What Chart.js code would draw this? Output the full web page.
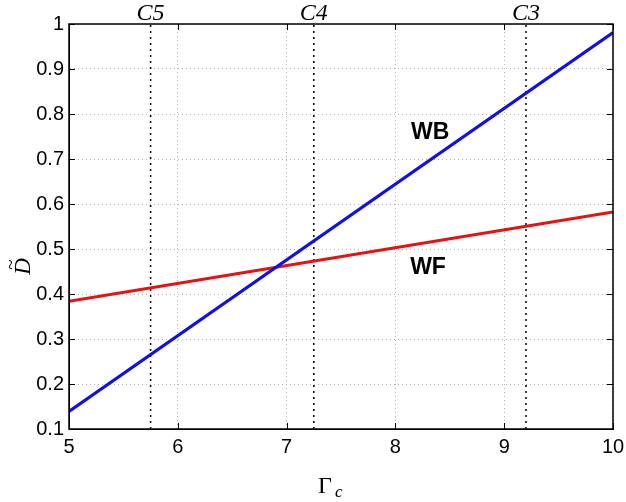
<!DOCTYPE html>
<html>
<head>
<meta charset="utf-8">
<script src="https://cdn.jsdelivr.net/npm/chart.js@4"></script>
<style>
  html, body { margin: 0; padding: 0; background: #fff; }
  #wrap { width: 626px; height: 502px; }
</style>
</head>
<body>
<div id="wrap"><canvas id="chart" width="626" height="502"></canvas></div>
<script>
// data
const gammaC = [5, 10];
const wbValues = [0.139, 0.981];
const wfValues = [0.384, 0.582];

const criticalX = [5.75, 7.25, 9.2];
const criticalLabels = ["C5", "C4", "C3"];

const curveLabels = ["WB", "WF"];
const curveLabelX = [8.32, 8.30];
const curveLabelY = [0.758, 0.458];

const xTicks = [5, 6, 7, 8, 9, 10];
const yTicks = [0.1, 0.2, 0.3, 0.4, 0.5, 0.6, 0.7, 0.8, 0.9, 1];

const toPoints = (xs, ys) => xs.map((x, i) => ({ x: x, y: ys[i] }));

const criticalSets = criticalX.map((x) => ({
    data: [{ x: x, y: yTicks[0] }, { x: x, y: yTicks[yTicks.length - 1] }],
    borderColor: "#000",
    borderWidth: 1.5,
    borderDash: [2, 4],
    pointRadius: 0,
}));

const decorations = {
    id: "decorations",
    afterDatasetsDraw(chart) {
        const { ctx, chartArea: a, scales } = chart;
        const xs = scales.x, ys = scales.y;
        ctx.save();

        // inward tick marks, MATLAB style
        ctx.strokeStyle = "#000";
        ctx.lineWidth = 1;
        xTicks.forEach((t) => {
            const px = Math.round(xs.getPixelForValue(t)) + 0.5;
            ctx.beginPath();
            ctx.moveTo(px, a.bottom); ctx.lineTo(px, a.bottom - 6);
            ctx.moveTo(px, a.top); ctx.lineTo(px, a.top + 6);
            ctx.stroke();
        });
        yTicks.forEach((t) => {
            const py = Math.round(ys.getPixelForValue(t)) + 0.5;
            ctx.beginPath();
            ctx.moveTo(a.left, py); ctx.lineTo(a.left + 6, py);
            ctx.moveTo(a.right, py); ctx.lineTo(a.right - 6, py);
            ctx.stroke();
        });

        // box
        ctx.lineWidth = 1.5;
        ctx.strokeRect(a.left, a.top, a.right - a.left, a.bottom - a.top);

        // C labels above the plot
        ctx.fillStyle = "#000";
        ctx.font = "italic 24px 'Liberation Serif'";
        ctx.textAlign = "center";
        ctx.textBaseline = "alphabetic";
        criticalX.forEach((x, i) => {
            ctx.fillText(criticalLabels[i], xs.getPixelForValue(x), a.top - 4);
        });

        // curve labels
        ctx.font = "bold 23px 'Liberation Sans'";
        ctx.textBaseline = "middle";
        curveLabels.forEach((s, i) => {
            ctx.fillText(s, xs.getPixelForValue(curveLabelX[i]), ys.getPixelForValue(curveLabelY[i]));
        });

        // x axis title: Gamma_c
        const cx = (a.left + a.right) / 2;
        ctx.textBaseline = "alphabetic";
        ctx.textAlign = "left";
        ctx.font = "24px 'Liberation Serif'";
        ctx.fillText("\u0393", cx - 23, 493);
        ctx.font = "italic 17px 'Liberation Serif'";
        ctx.fillText("c", cx - 6, 497);

        // y axis title: D tilde
        ctx.translate(30, (a.top + a.bottom) / 2 + 40);
        ctx.rotate(-Math.PI / 2);
        ctx.textAlign = "center";
        ctx.font = "italic 23px 'Liberation Serif'";
        ctx.fillText("D", 0, 0);
        ctx.font = "19px 'Liberation Serif'";
        ctx.fillText("~", 2, -13);
        ctx.restore();
    },
};

new Chart(document.getElementById("chart"), {
    type: "line",
    data: {
        datasets: [
            {
                label: "WB",
                data: toPoints(gammaC, wbValues),
                borderColor: "#1010e6",
                borderWidth: 3,
                pointRadius: 0,
            },
            {
                label: "WF",
                data: toPoints(gammaC, wfValues),
                borderColor: "#e81010",
                borderWidth: 3,
                pointRadius: 0,
            },
            ...criticalSets,
        ],
    },
    options: {
        responsive: false,
        animation: false,
        layout: { padding: { top: 24, right: 13, left: 0, bottom: 0 } },
        plugins: {
            legend: { display: false },
            tooltip: { enabled: false },
        },
        scales: {
            x: {
                type: "linear",
                min: 5,
                max: 10,
                afterBuildTicks: (s) => { s.ticks = xTicks.map((v) => ({ value: v })); },
                afterFit: (s) => { s.height = 73; s.paddingRight = 0; s.paddingLeft = 0; },
                ticks: {
                    color: "#000",
                    padding: 6,
                    font: { family: "'Liberation Sans'", size: 20 },
                },
                grid: {
                    color: "#b0b0b0",
                    lineWidth: 1,
                    drawTicks: false,
                },
                border: { display: true, color: "#000", dash: [1, 3] },
            },
            y: {
                min: 0.1,
                max: 1,
                afterBuildTicks: (s) => { s.ticks = yTicks.map((v) => ({ value: v })); },
                afterFit: (s) => { s.width = 69; s.paddingTop = 0; s.paddingBottom = 0; },
                ticks: {
                    color: "#000",
                    padding: 5,
                    font: { family: "'Liberation Sans'", size: 20 },
                    callback: (v) => String(Math.round(v * 10) / 10),
                },
                grid: {
                    color: "#b0b0b0",
                    lineWidth: 1,
                    drawTicks: false,
                },
                border: { display: true, color: "#000", dash: [1, 3] },
            },
        },
    },
    plugins: [decorations],
});
</script>
</body>
</html>
